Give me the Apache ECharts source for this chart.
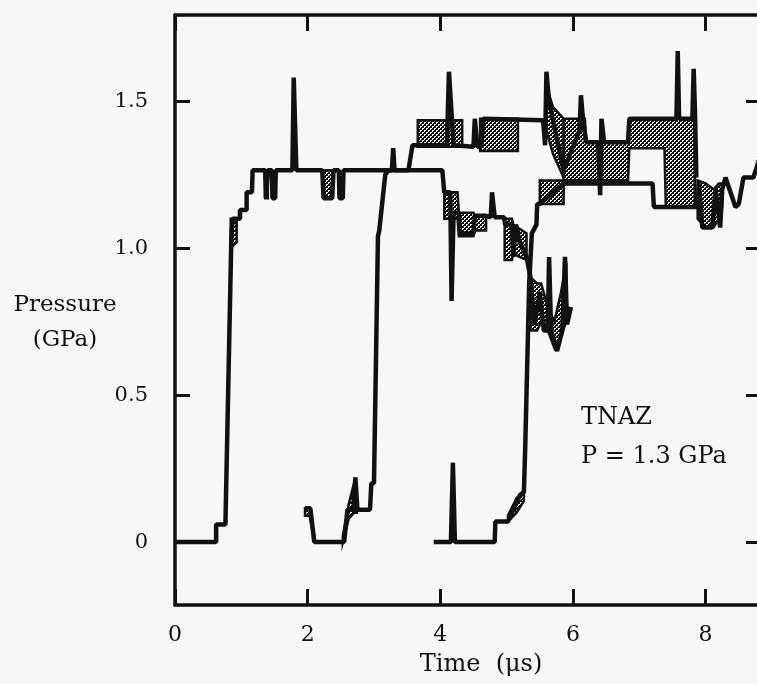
<!DOCTYPE html>
<html>
<head>
<meta charset="utf-8">
<script src="https://cdn.jsdelivr.net/npm/echarts@6/dist/echarts.min.js"></script>
<style>
  html, body { margin: 0; padding: 0; background: #f7f7f7; overflow: hidden; }
  #chart { width: 757px; height: 684px; }
</style>
</head>
<body>
<div id="chart"></div>
<script>
  // axis ranges and tick values
  const X_MIN = 0
  const X_MAX = 8.82
  const Y_MIN = -0.214
  const Y_MAX = 1.793
  const Y_TICKS = [0, 0.5, 1.0, 1.5]

  // gauge 1 (first record) : time (us), pressure (GPa)
  const G1_LINE = [
    [0, 0], [0.62, 0], [0.62, 0.06], [0.76, 0.06], [0.85, 1.04], [0.87, 1.1], [0.98, 1.1],
    [0.98, 1.13], [1.08, 1.13], [1.08, 1.19], [1.16, 1.19], [1.17, 1.265], [1.36, 1.265],
    [1.37, 1.17], [1.39, 1.17], [1.4, 1.265], [1.46, 1.265], [1.47, 1.17], [1.51, 1.17],
    [1.52, 1.265], [1.77, 1.265], [1.79, 1.58], [1.83, 1.265], [2.22, 1.265], [2.24, 1.17],
    [2.37, 1.17], [2.39, 1.265], [2.47, 1.265], [2.48, 1.17], [2.53, 1.17], [2.54, 1.265],
    [4.03, 1.265], [4.06, 1.19], [4.15, 1.19], [4.17, 0.82], [4.2, 1.12], [4.28, 1.12],
    [4.3, 1.05], [4.5, 1.05], [4.52, 1.11], [4.69, 1.11], [4.76, 1.105], [4.78, 1.19],
    [4.82, 1.105], [4.96, 1.105], [4.98, 1.08], [5.08, 1.08], [5.1, 0.97], [5.14, 1.08],
    [5.2, 1.02], [5.3, 0.97], [5.36, 0.9], [5.42, 0.74], [5.5, 0.85], [5.56, 0.72],
    [5.62, 0.72], [5.64, 0.97], [5.67, 0.72], [5.76, 0.65], [5.84, 0.72], [5.88, 0.97],
    [5.91, 0.74], [5.97, 0.8]
  ]
  // hatched parts: time, low, high
  const G1_BAND_RISE = [[0.84, 1.0, 1.1], [0.93, 1.02, 1.1]]
  const G1_BAND_DIP1 = [[1.36, 1.17, 1.265], [1.4, 1.17, 1.265]]
  const G1_BAND_DIP2 = [[2.22, 1.25, 1.265], [2.25, 1.17, 1.265], [2.35, 1.17, 1.265], [2.38, 1.25, 1.265]]
  const G1_BAND_A = [[4.06, 1.1, 1.19], [4.26, 1.1, 1.19], [4.28, 1.04, 1.12], [4.5, 1.04, 1.12], [4.52, 1.06, 1.11], [4.69, 1.06, 1.11]]
  const G1_BAND_B = [[4.97, 0.96, 1.1], [5.08, 0.96, 1.1], [5.1, 0.98, 1.08], [5.3, 0.96, 1.05]]
  const G1_BAND_C = [[5.36, 0.72, 0.9], [5.46, 0.72, 0.88], [5.52, 0.75, 0.88], [5.62, 0.72, 0.8], [5.72, 0.66, 0.75], [5.82, 0.7, 0.85], [5.9, 0.75, 0.95]]

  // gauge 2
  const G2_LINE = [
    [1.96, 0.115], [2.04, 0.115], [2.1, 0], [2.55, 0], [2.6, 0.11], [2.69, 0.11], [2.72, 0.22],
    [2.75, 0.11], [2.94, 0.11], [2.96, 0.2], [3.0, 0.2], [3.06, 1.04], [3.08, 1.06], [3.17, 1.25],
    [3.22, 1.265], [3.27, 1.265], [3.29, 1.34], [3.31, 1.265], [3.52, 1.265], [3.58, 1.35],
    [3.66, 1.35], [4.1, 1.35], [4.13, 1.6], [4.16, 1.6], [4.2, 1.35], [4.5, 1.345], [4.52, 1.44],
    [4.56, 1.345], [4.62, 1.345], [4.65, 1.44], [5.55, 1.435], [5.58, 1.35], [5.6, 1.6],
    [5.64, 1.5], [5.75, 1.38], [5.86, 1.265], [6.1, 1.4], [6.12, 1.52], [6.15, 1.44], [6.2, 1.36],
    [6.38, 1.36], [6.41, 1.18], [6.43, 1.44], [6.47, 1.36], [6.83, 1.36], [6.85, 1.44],
    [7.56, 1.44], [7.58, 1.67], [7.6, 1.44], [7.8, 1.44], [7.82, 1.61], [7.84, 1.46], [7.86, 1.24]
  ]
  const G2_BAND_0 = [[1.96, 0.09, 0.115], [2.03, 0.09, 0.115], [2.1, 0, 0.02]]
  const G2_BAND_1 = [[2.53, 0, 0.02], [2.62, 0.08, 0.13], [2.7, 0.1, 0.2], [2.74, 0.1, 0.12]]
  const G2_BAND_A = [[3.66, 1.345, 1.435], [4.33, 1.345, 1.435]]
  const G2_BAND_B = [[4.6, 1.33, 1.44], [5.17, 1.33, 1.44]]
  const G2_BAND_C = [[5.6, 1.4, 1.55], [5.7, 1.32, 1.48], [5.86, 1.24, 1.44]]
  const G2_BAND_D = [[5.86, 1.23, 1.44], [6.18, 1.23, 1.44], [6.2, 1.23, 1.36], [6.83, 1.23, 1.36], [6.85, 1.34, 1.44], [7.38, 1.34, 1.44], [7.4, 1.14, 1.44], [7.84, 1.14, 1.44]]

  // gauge 3
  const G3_LINE = [
    [3.9, 0], [4.16, 0], [4.19, 0.27], [4.22, 0], [4.82, 0], [4.83, 0.07], [5.02, 0.07],
    [5.12, 0.12], [5.2, 0.16], [5.26, 0.17], [5.28, 0.32], [5.31, 0.6], [5.34, 0.88],
    [5.38, 1.05], [5.45, 1.08], [5.46, 1.15], [5.5, 1.15], [5.86, 1.22], [7.2, 1.22],
    [7.22, 1.14], [7.88, 1.14], [7.9, 1.22], [7.95, 1.07], [8.1, 1.07], [8.15, 1.2],
    [8.22, 1.07], [8.25, 1.2], [8.3, 1.24], [8.45, 1.14], [8.5, 1.15], [8.57, 1.24],
    [8.72, 1.24], [8.82, 1.31]
  ]
  const G3_BAND_0 = [[4.16, 0, 0.01], [4.19, 0.2, 0.27], [4.22, 0, 0.01]]
  const G3_BAND_1 = [[5.02, 0.07, 0.09], [5.15, 0.1, 0.15], [5.26, 0.14, 0.17]]
  const G3_BAND_A = [[5.5, 1.15, 1.23], [5.86, 1.15, 1.23]]
  const G3_BAND_B = [[7.88, 1.1, 1.23], [8.0, 1.07, 1.22], [8.12, 1.07, 1.2], [8.2, 1.1, 1.22], [8.25, 1.14, 1.22]]

  const BANDS = [
    G1_BAND_RISE, G1_BAND_DIP1, G1_BAND_DIP2, G1_BAND_A, G1_BAND_B, G1_BAND_C,
    G2_BAND_0, G2_BAND_1, G2_BAND_A, G2_BAND_B, G2_BAND_C, G2_BAND_D,
    G3_BAND_0, G3_BAND_1, G3_BAND_A, G3_BAND_B
  ]

  const INK = '#111'
  const FONT = 'DejaVu Serif'

  // cross hatch used for the shaded parts of the records
  const hatchCanvas = document.createElement('canvas')
  hatchCanvas.width = 4
  hatchCanvas.height = 4
  const hc = hatchCanvas.getContext('2d')
  hc.fillStyle = '#f7f7f7'
  hc.fillRect(0, 0, 4, 4)
  hc.fillStyle = INK
  for (let x = 0; x < 4; x++) {
    for (let y = 0; y < 4; y++) {
      if ((x + y) % 4 < 2 || (x - y + 4) % 4 === 0) hc.fillRect(x, y, 1, 1)
    }
  }
  const hatch = { image: hatchCanvas, repeat: 'repeat' }

  const frameLine = { onZero: false, lineStyle: { color: INK, width: 3.5 } }

  function lineSeries (data) {
    return {
      type: 'line',
      data: data,
      symbol: 'none',
      clip: true,
      z: 3,
      lineStyle: { color: INK, width: 4.5 }
    }
  }

  const chart = echarts.init(document.getElementById('chart'))
  const option = {
    backgroundColor: '#f7f7f7',
    animation: false,
    grid: { left: 175, top: 15, right: -3, bottom: 79, containLabel: false, outerBoundsMode: 'none' },
    xAxis: [
      {
        type: 'value', min: X_MIN, max: X_MAX, interval: 2, position: 'bottom',
        axisLine: frameLine,
        axisTick: { inside: true, length: 16, lineStyle: { color: INK, width: 3 } },
        axisLabel: { fontFamily: FONT, fontSize: 22, color: INK, margin: 19, showMaxLabel: false },
        splitLine: { show: false }
      },
      {
        type: 'value', min: X_MIN, max: X_MAX, interval: 2, position: 'top',
        axisLine: frameLine,
        axisTick: { inside: true, length: 16, lineStyle: { color: INK, width: 3 } },
        axisLabel: { show: false },
        splitLine: { show: false }
      }
    ],
    yAxis: [
      {
        type: 'value', min: Y_MIN, max: Y_MAX, position: 'left',
        axisLine: frameLine,
        axisTick: { inside: true, length: 15, customValues: Y_TICKS, lineStyle: { color: INK, width: 3 } },
        axisLabel: {
          customValues: Y_TICKS,
          fontFamily: FONT, fontSize: 21, color: INK, margin: 27,
          formatter: v => (v === 0 ? '0' : v.toFixed(1))
        },
        splitLine: { show: false }
      },
      {
        type: 'value', min: Y_MIN, max: Y_MAX, position: 'right',
        axisLine: frameLine,
        axisTick: { inside: true, length: 14, customValues: Y_TICKS, lineStyle: { color: INK, width: 3 } },
        axisLabel: { show: false },
        splitLine: { show: false }
      }
    ],
    graphic: [
      { type: 'text', x: 65, y: 305, style: { text: 'Pressure', fontFamily: FONT, fontSize: 23, fill: INK, align: 'center', verticalAlign: 'middle' } },
      { type: 'text', x: 65, y: 340, style: { text: '(GPa)', fontFamily: FONT, fontSize: 23, fill: INK, align: 'center', verticalAlign: 'middle' } },
      { type: 'text', x: 481, y: 665, style: { text: 'Time  (μs)', fontFamily: FONT, fontSize: 24, fill: INK, align: 'center', verticalAlign: 'middle' } },
      { type: 'text', x: 581, y: 418, style: { text: 'TNAZ', fontFamily: FONT, fontSize: 24, fill: INK, align: 'left', verticalAlign: 'middle' } },
      { type: 'text', x: 581, y: 457, style: { text: 'P = 1.3 GPa', fontFamily: FONT, fontSize: 24, fill: INK, align: 'left', verticalAlign: 'middle' } }
    ],
    series: [
      {
        type: 'custom',
        z: 2,
        clip: true,
        data: BANDS.map(b => [b[0][0], b[0][1]]),
        renderItem: (params, api) => {
          const band = BANDS[params.dataIndex]
          const upper = band.map(d => api.coord([d[0], d[2]]))
          const lower = band.slice().reverse().map(d => api.coord([d[0], d[1]]))
          return {
            type: 'polygon',
            shape: { points: upper.concat(lower) },
            style: { fill: hatch, stroke: INK, lineWidth: 2.5 }
          }
        }
      },
      lineSeries(G1_LINE),
      lineSeries(G2_LINE),
      lineSeries(G3_LINE)
    ]
  }
  chart.setOption(option)
</script>
</body>
</html>
